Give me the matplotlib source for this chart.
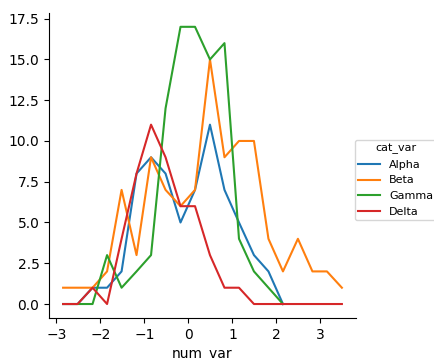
import matplotlib
matplotlib.use('Agg')
import matplotlib.pyplot as plt

# bin centres along num_var
x_centres = [-2.85, -2.52, -2.18, -1.85, -1.52, -1.18, -0.85, -0.52, -0.18, 0.15,
             0.49, 0.82, 1.15, 1.49, 1.82, 2.15, 2.49, 2.82, 3.15, 3.49]

categories = ['Alpha', 'Beta', 'Gamma', 'Delta']
alpha_counts = [0, 0, 1, 1, 2, 8, 9, 8, 5, 7, 11, 7, 5, 3, 2, 0]
beta_counts = [1, 1, 1, 2, 7, 3, 9, 7, 6, 7, 15, 9, 10, 10, 4, 2, 4, 2, 2, 1]
gamma_counts = [0, 0, 0, 3, 1, 2, 3, 12, 17, 17, 15, 16, 4, 2, 1, 0]
delta_counts = [0, 0, 1, 0, 4, 8, 11, 9, 6, 6, 3, 1, 1, 0, 0, 0, 0, 0, 0, 0]

series = [alpha_counts, beta_counts, gamma_counts, delta_counts]
colors = ['#1f77b4', '#ff7f0e', '#2ca02c', '#d62728']

fig = plt.figure(figsize=(4.35, 3.6), dpi=100)
ax = fig.add_axes([0.113, 0.117, 0.705, 0.847])

for name, counts, c in zip(categories, series, colors):
    ax.plot(x_centres[:len(counts)], counts, color=c, label=name, linewidth=1.5)

ax.spines['top'].set_visible(False)
ax.spines['right'].set_visible(False)
ax.set_xlabel('num_var')
ax.set_yticks([0, 2.5, 5, 7.5, 10, 12.5, 15, 17.5])

handles, labels = ax.get_legend_handles_labels()
fig.legend(handles, labels, title='cat_var', loc='center left',
           bbox_to_anchor=(0.803, 0.5), fontsize=8, title_fontsize=8,
           borderpad=0.3)

fig.savefig('out.png', dpi=100)
